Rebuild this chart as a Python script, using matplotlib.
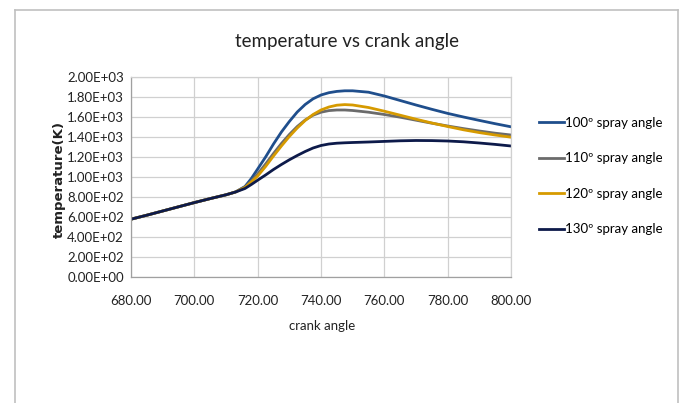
import matplotlib
matplotlib.use("Agg")
import matplotlib.pyplot as plt
from matplotlib.lines import Line2D

crank = [680, 685, 690, 695, 700, 705, 710, 713, 716, 718, 720, 722.5, 725, 727.5, 730, 732.5,
         735, 737.5, 740, 742.5, 745, 747.5, 750, 755, 760, 765, 770, 775, 780, 785, 790, 795, 800]
base = [578, 618, 660, 702, 744, 784, 822, 850]
t100 = base + [905, 985, 1080, 1200, 1330, 1450, 1555, 1650, 1725, 1782, 1820, 1843, 1856, 1862, 1862,
               1848, 1810, 1765, 1720, 1677, 1636, 1600, 1566, 1533, 1502]
t110 = base + [900, 960, 1030, 1130, 1235, 1335, 1425, 1505, 1570, 1618, 1648, 1664, 1670, 1670, 1665,
               1648, 1625, 1598, 1568, 1538, 1510, 1484, 1460, 1438, 1420]
t120 = base + [895, 950, 1010, 1105, 1210, 1310, 1405, 1490, 1565, 1625, 1670, 1700, 1718, 1724, 1720,
               1695, 1658, 1618, 1578, 1540, 1505, 1472, 1444, 1420, 1398]
t130 = base + [885, 925, 968, 1020, 1075, 1125, 1172, 1215, 1255, 1290, 1315, 1330, 1338, 1342, 1345,
               1350, 1356, 1362, 1365, 1364, 1360, 1352, 1340, 1326, 1310]

labels = ["100º spray angle", "110º spray angle", "120º spray angle", "130º spray angle"]
colors = ["#1f4e8c", "#6b6b6b", "#d69a00", "#0d1a4a"]
series = [t100, t110, t120, t130]

xticks = [680, 700, 720, 740, 760, 780, 800]
yticks = list(range(0, 2001, 200))

plt.rcParams['font.family'] = ['Lato', 'DejaVu Sans']

fig = plt.figure(figsize=(6.81, 4.03), dpi=100)
W, H = 681, 403
ax = fig.add_axes([131 / W, 1 - 277 / H, (511 - 131) / W, (277 - 77) / H])

for y, c, lab in zip(series, colors, labels):
    ax.plot(crank, y, color=c, lw=2.0, label=lab, solid_capstyle='round', solid_joinstyle='round')

ax.set_xlim(680, 800)
ax.set_ylim(0, 2000)
ax.set_xticks(xticks)
ax.set_xticklabels([f"{v:.2f}" for v in xticks], fontsize=9.5)
ax.set_yticks(yticks)
ax.set_yticklabels([f"{v:.2E}" for v in yticks], fontsize=9.5)
ax.grid(True, color="#d0d0d0", lw=0.9)
ax.set_axisbelow(True)
ax.tick_params(length=0, pad=5, colors="#222222")
ax.tick_params(axis='x', pad=13)
for s in ax.spines.values():
    s.set_color("#d0d0d0")
    s.set_linewidth(0.9)
ax.spines['left'].set_color("#a0a0a0")
ax.spines['bottom'].set_color("#a0a0a0")

fig.text(347 / W, 1 - 42 / H, "temperature vs crank angle", ha="center", va="center", fontsize=13.5, color="#222222")
fig.text(322 / W, 1 - 326 / H, "crank angle", ha="center", va="center", fontsize=9.5, color="#222222")
fig.text(59 / W, 1 - 180 / H, "temperature(K)", ha="center", va="center", rotation=90, fontsize=9.5,
         color="#222222", fontweight="bold", family="DejaVu Sans")

handles = [Line2D([0], [0], color=c, lw=2) for c in colors]
fig.legend(handles, labels, loc="upper left", bbox_to_anchor=(527 / W, 1 - 105 / H),
           frameon=False, fontsize=9.5, handlelength=1.9, handletextpad=0.1, labelspacing=1.78)

# outer border (left, top, right)
for xs, ys in [([15, 15], [403, 10]), ([15, 678], [10, 10]), ([678, 678], [10, 403])]:
    fig.add_artist(Line2D([x / W for x in xs], [1 - y / H for y in ys], color="#c0c0c0", lw=1.2,
                          transform=fig.transFigure))

fig.savefig("out.png", dpi=100)
